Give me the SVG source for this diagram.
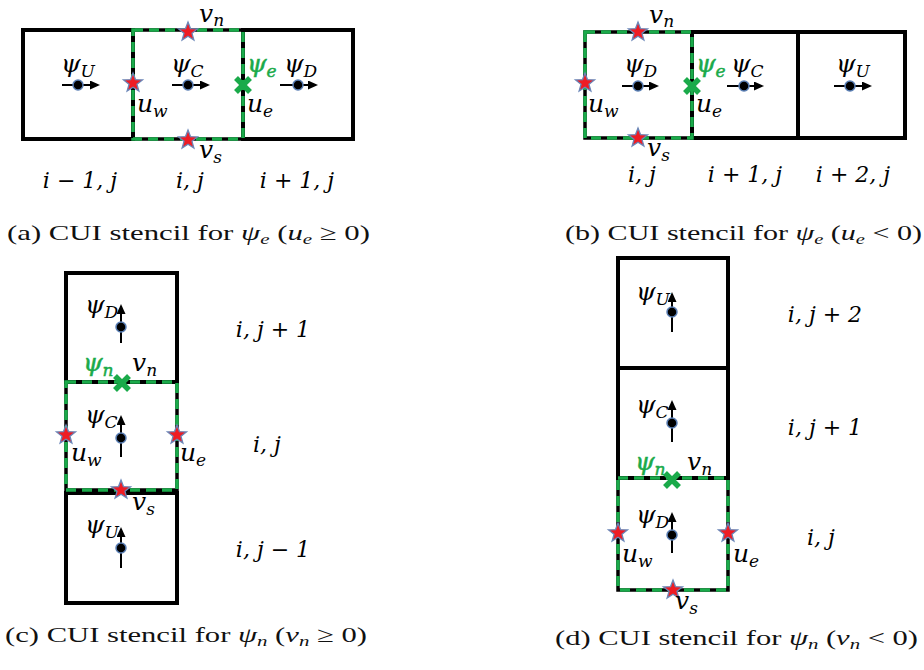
<svg xmlns="http://www.w3.org/2000/svg" width="924" height="670" viewBox="0 0 924 670">
<defs>
<style>
.cell{fill:none;stroke:#000;stroke-width:4}
.gb{fill:none;stroke:#000;stroke-width:3.5}
.gd{fill:none;stroke:#1aaa4a;stroke-width:3.5;stroke-dasharray:10 6}
.m{font-family:"DejaVu Serif","Liberation Serif",serif;font-style:italic;font-size:25px;fill:#000}
.l{font-family:"DejaVu Serif","Liberation Serif",serif;font-style:italic;font-size:22px;fill:#000}
.g{fill:#1aaa4a;stroke:#1aaa4a;stroke-width:0.5}
.sub{font-size:17px}
.cap{font-family:"Liberation Serif","DejaVu Serif",serif;font-size:22px;fill:#111}
.it{font-style:italic}
.ar{stroke:#000;stroke-width:2;fill:none;marker-end:url(#ah)}
.dot{fill:#000;stroke:#5a7fb5;stroke-width:1.5}
.x{stroke:#1aaa4a;stroke-width:5.5;stroke-linecap:butt}
</style>
<marker id="ah" markerUnits="userSpaceOnUse" markerWidth="10" markerHeight="9" refX="8" refY="4.5" orient="auto">
<path d="M0,0 L10,4.5 L0,9 Z" fill="#000"/>
</marker>
<path id="star" d="M0,-10 L2.47,-3.4 L9.51,-3.09 L3.99,1.3 L5.88,8.09 L0,4.2 L-5.88,8.09 L-3.99,1.3 L-9.51,-3.09 L-2.47,-3.4 Z" fill="#ee1c24" stroke="#6a86b8" stroke-width="1.3"/>
<g id="cross"><line class="x" x1="-7" y1="-7" x2="7" y2="7"/><line class="x" x1="-7" y1="7" x2="7" y2="-7"/></g>
</defs>
<rect width="924" height="670" fill="#fff"/>

<!-- Panel (a) -->
<g id="a-cellU"><rect class="cell" x="23" y="30" width="110" height="109"/>
<text class="m" x="61" y="72">ψ<tspan class="sub" dy="5">U</tspan></text></g>
<g id="a-cellD"><rect class="cell" x="243" y="30" width="110" height="109"/>
<text class="m" x="284" y="72">ψ<tspan class="sub" dy="5">D</tspan></text></g>
<g id="a-cellC"><rect class="gb" x="133" y="30" width="110" height="109"/><rect class="gd" x="133" y="30" width="110" height="109"/>
<text class="m" x="171" y="72">ψ<tspan class="sub" dy="5">C</tspan></text></g>
<g id="a-marks">
<use href="#star" x="188" y="32"/><use href="#star" x="133" y="83"/><use href="#star" x="188" y="140"/>
<use href="#cross" x="243" y="85"/>
<text class="m" x="199" y="22">v<tspan class="sub" dy="4">n</tspan></text>
<text class="m" x="137" y="112">u<tspan class="sub" dy="5">w</tspan></text>
<text class="m" x="247" y="112">u<tspan class="sub" dy="5">e</tspan></text>
<text class="m" x="199" y="158">v<tspan class="sub" dy="5">s</tspan></text>
<text class="m g" x="247" y="72">ψ<tspan class="sub" dy="5">e</tspan></text>
<text class="l" x="80" y="188" text-anchor="middle">i − 1, j</text>
<text class="l" x="190" y="188" text-anchor="middle">i, j</text>
<text class="l" x="297" y="188" text-anchor="middle">i + 1, j</text>
</g>

<!-- Panel (b) -->
<g id="b-cellC"><rect class="cell" x="692" y="32" width="106" height="106"/>
<text class="m" x="731" y="72">ψ<tspan class="sub" dy="5">C</tspan></text></g>
<g id="b-cellU"><rect class="cell" x="798" y="32" width="107" height="106"/>
<text class="m" x="836" y="72">ψ<tspan class="sub" dy="5">U</tspan></text></g>
<g id="b-cellD"><rect class="gb" x="585" y="32" width="107" height="106"/><rect class="gd" x="585" y="32" width="107" height="106"/>
<text class="m" x="624" y="72">ψ<tspan class="sub" dy="5">D</tspan></text></g>
<g id="b-marks">
<use href="#star" x="638" y="32"/><use href="#star" x="585" y="83"/><use href="#star" x="638" y="138"/>
<use href="#cross" x="692" y="86"/>
<text class="m" x="649" y="23">v<tspan class="sub" dy="4">n</tspan></text>
<text class="m" x="588" y="112">u<tspan class="sub" dy="5">w</tspan></text>
<text class="m" x="696" y="112">u<tspan class="sub" dy="5">e</tspan></text>
<text class="m" x="647" y="156">v<tspan class="sub" dy="5">s</tspan></text>
<text class="m g" x="696" y="72">ψ<tspan class="sub" dy="5">e</tspan></text>
<text class="l" x="642" y="182" text-anchor="middle">i, j</text>
<text class="l" x="745" y="182" text-anchor="middle">i + 1, j</text>
<text class="l" x="853" y="182" text-anchor="middle">i + 2, j</text>
</g>

<!-- Panel (c) -->
<g id="c-cellD"><rect class="cell" x="66" y="273" width="111" height="109"/>
<text class="m" x="85" y="313">ψ<tspan class="sub" dy="5">D</tspan></text></g>
<g id="c-cellU"><rect class="cell" x="66" y="493" width="111" height="110"/>
<text class="m" x="85" y="533">ψ<tspan class="sub" dy="5">U</tspan></text></g>
<g id="c-cellC"><rect class="gb" x="66" y="382" width="111" height="108"/><rect class="gd" x="66" y="382" width="111" height="108"/>
<text class="m" x="85" y="423">ψ<tspan class="sub" dy="5">C</tspan></text></g>
<g id="c-marks">
<use href="#star" x="66" y="435"/><use href="#star" x="177" y="435"/><use href="#star" x="121" y="490"/>
<use href="#cross" x="122" y="383"/>
<text class="m g" x="83" y="371">ψ<tspan class="sub" dy="5">n</tspan></text>
<text class="m" x="132" y="371">v<tspan class="sub" dy="5">n</tspan></text>
<text class="m" x="71" y="461">u<tspan class="sub" dy="5">w</tspan></text>
<text class="m" x="180" y="461">u<tspan class="sub" dy="5">e</tspan></text>
<text class="m" x="132" y="510">v<tspan class="sub" dy="5">s</tspan></text>
<text class="l" x="273" y="337" text-anchor="middle">i, j + 1</text>
<text class="l" x="267" y="452" text-anchor="middle">i, j</text>
<text class="l" x="273" y="557" text-anchor="middle">i, j − 1</text>
</g>

<!-- Panel (d) -->
<g id="d-cellU"><rect class="cell" x="618" y="258" width="110" height="110"/>
<text class="m" x="636" y="300">ψ<tspan class="sub" dy="5">U</tspan></text></g>
<g id="d-cellC"><rect class="cell" x="618" y="368" width="110" height="110"/>
<text class="m" x="636" y="413">ψ<tspan class="sub" dy="5">C</tspan></text></g>
<g id="d-cellD"><rect class="gb" x="618" y="478" width="110" height="112"/><rect class="gd" x="618" y="478" width="110" height="112"/>
<text class="m" x="636" y="523">ψ<tspan class="sub" dy="5">D</tspan></text></g>
<g id="d-marks">
<use href="#star" x="618" y="533"/><use href="#star" x="728" y="533"/><use href="#star" x="673" y="590"/>
<use href="#cross" x="672" y="480"/>
<text class="m g" x="635" y="470">ψ<tspan class="sub" dy="5">n</tspan></text>
<text class="m" x="687" y="470">v<tspan class="sub" dy="5">n</tspan></text>
<text class="m" x="622" y="562">u<tspan class="sub" dy="5">w</tspan></text>
<text class="m" x="733" y="562">u<tspan class="sub" dy="5">e</tspan></text>
<text class="m" x="675" y="609">v<tspan class="sub" dy="5">s</tspan></text>
<text class="l" x="825" y="322" text-anchor="middle">i, j + 2</text>
<text class="l" x="825" y="435" text-anchor="middle">i, j + 1</text>
<text class="l" x="821" y="545" text-anchor="middle">i, j</text>
</g>

<!-- velocity arrows and cell-centre points -->
<g id="connectors">
<line class="ar" x1="62" y1="85" x2="98" y2="85"/><circle class="dot" cx="78" cy="85" r="5"/>
<line class="ar" x1="172" y1="85" x2="208" y2="85"/><circle class="dot" cx="188" cy="85" r="5"/>
<line class="ar" x1="280" y1="85" x2="316" y2="85"/><circle class="dot" cx="298" cy="85" r="5"/>
<line class="ar" x1="622" y1="86" x2="657" y2="86"/><circle class="dot" cx="638" cy="86" r="5"/>
<line class="ar" x1="727" y1="86" x2="762" y2="86"/><circle class="dot" cx="744" cy="86" r="5"/>
<line class="ar" x1="834" y1="86" x2="870" y2="86"/><circle class="dot" cx="850" cy="86" r="5"/>
<line class="ar" x1="121" y1="343" x2="121" y2="306"/><circle class="dot" cx="121" cy="327" r="5"/>
<line class="ar" x1="121" y1="457" x2="121" y2="417"/><circle class="dot" cx="121" cy="438" r="5"/>
<line class="ar" x1="121" y1="568" x2="121" y2="529"/><circle class="dot" cx="121" cy="548" r="5"/>
<line class="ar" x1="672" y1="332" x2="672" y2="294"/><circle class="dot" cx="672" cy="312" r="5"/>
<line class="ar" x1="672" y1="442" x2="672" y2="402"/><circle class="dot" cx="672" cy="423" r="5"/>
<line class="ar" x1="672" y1="553" x2="672" y2="514"/><circle class="dot" cx="672" cy="535" r="5"/>
</g>

<!-- captions -->
<g id="captions">
<text class="cap" x="7" y="240" textLength="363" lengthAdjust="spacingAndGlyphs">(a) CUI stencil for <tspan class="it">ψ</tspan><tspan class="it" font-size="15" dy="4">e</tspan><tspan dy="-4"> (</tspan><tspan class="it">u</tspan><tspan class="it" font-size="15" dy="4">e</tspan><tspan dy="-4"> ≥ 0)</tspan></text>
<text class="cap" x="565" y="240" textLength="357" lengthAdjust="spacingAndGlyphs">(b) CUI stencil for <tspan class="it">ψ</tspan><tspan class="it" font-size="15" dy="4">e</tspan><tspan dy="-4"> (</tspan><tspan class="it">u</tspan><tspan class="it" font-size="15" dy="4">e</tspan><tspan dy="-4"> &lt; 0)</tspan></text>
<text class="cap" x="5" y="642" textLength="362" lengthAdjust="spacingAndGlyphs">(c) CUI stencil for <tspan class="it">ψ</tspan><tspan class="it" font-size="15" dy="4">n</tspan><tspan dy="-4"> (</tspan><tspan class="it">v</tspan><tspan class="it" font-size="15" dy="4">n</tspan><tspan dy="-4"> ≥ 0)</tspan></text>
<text class="cap" x="555" y="645" textLength="363" lengthAdjust="spacingAndGlyphs">(d) CUI stencil for <tspan class="it">ψ</tspan><tspan class="it" font-size="15" dy="4">n</tspan><tspan dy="-4"> (</tspan><tspan class="it">v</tspan><tspan class="it" font-size="15" dy="4">n</tspan><tspan dy="-4"> &lt; 0)</tspan></text>
</g>
</svg>
